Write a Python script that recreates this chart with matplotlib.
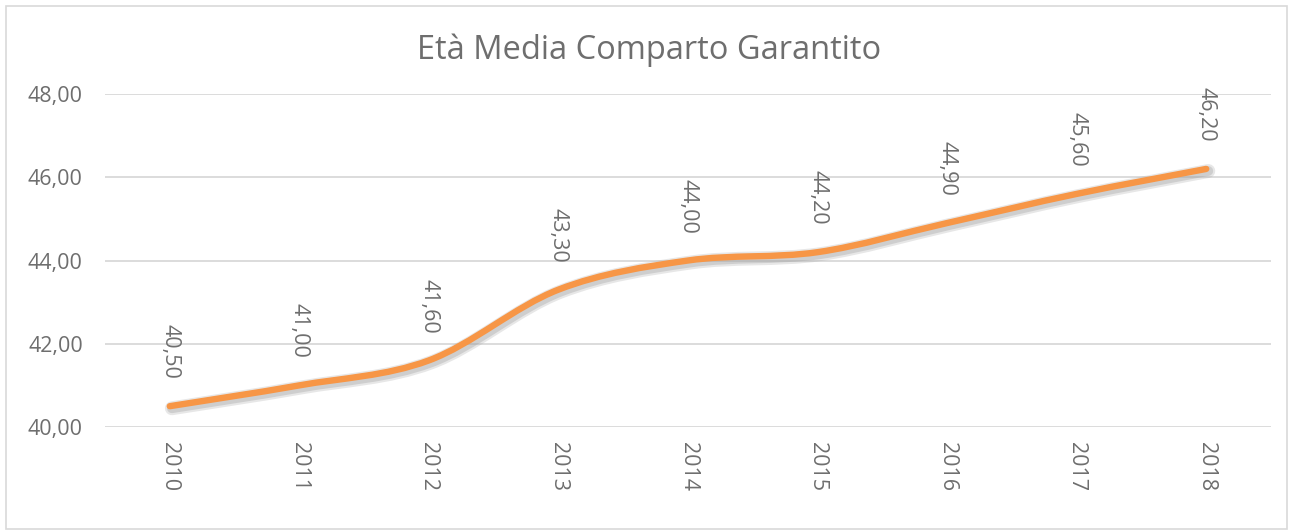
import matplotlib
matplotlib.use('Agg')
import matplotlib.pyplot as plt
import matplotlib.patheffects as pe
from matplotlib.path import Path
from matplotlib.patches import PathPatch, Rectangle

years = ['2010', '2011', '2012', '2013', '2014', '2015', '2016', '2017', '2018']
eta_media = [40.50, 41.00, 41.60, 43.30, 44.00, 44.20, 44.90, 45.60, 46.20]
y_ticks = [40, 42, 44, 46, 48]

plt.rcParams['font.family'] = ['Open Sans', 'DejaVu Sans']
text_col = '#6e6e6e'
line_col = '#f79646'

fig = plt.figure(figsize=(12.9, 5.31), dpi=100)
ax = fig.add_axes([105 / 1290, 1 - 427 / 531, 1166 / 1290, 333 / 531])

# outer border of the chart area
fig.patches.append(Rectangle((6 / 1290, 2 / 531), 1281 / 1290, 523 / 531,
                             transform=fig.transFigure, fill=False,
                             edgecolor='#d9d9d9', linewidth=1.2))

x = list(range(len(years)))

# smoothed line like excel (catmull-rom -> cubic bezier)
verts = [(x[0], eta_media[0])]
codes = [Path.MOVETO]
n = len(x)
for i in range(n - 1):
    p0 = (x[max(i - 1, 0)], eta_media[max(i - 1, 0)])
    p1 = (x[i], eta_media[i])
    p2 = (x[i + 1], eta_media[i + 1])
    p3 = (x[min(i + 2, n - 1)], eta_media[min(i + 2, n - 1)])
    c1 = (p1[0] + (p2[0] - p0[0]) / 6, p1[1] + (p2[1] - p0[1]) / 6)
    c2 = (p2[0] - (p3[0] - p1[0]) / 6, p2[1] - (p3[1] - p1[1]) / 6)
    verts += [c1, c2, p2]
    codes += [Path.CURVE4] * 3

curve = PathPatch(Path(verts, codes), fill=False, edgecolor=line_col,
                  linewidth=4.6, capstyle='round', joinstyle='round', zorder=3)
curve.set_path_effects([
    pe.SimpleLineShadow(offset=(1.5, -1.5), shadow_color='#b0b0b0', alpha=0.3, linewidth=10),
    pe.SimpleLineShadow(offset=(1.5, -1.5), shadow_color='#a0a0a0', alpha=0.35, linewidth=7),
    pe.Normal()])
ax.add_patch(curve)

for xi, v in zip(x, eta_media):
    ax.annotate(f'{v:.2f}'.replace('.', ','), (xi, v), xytext=(0, 19.5),
                textcoords='offset points', rotation=-90, ha='center', va='bottom',
                fontsize=15.5, color=text_col)

ax.set_xlim(-0.5, n - 0.5)
ax.set_ylim(40, 48)
ax.set_yticks(y_ticks)
ax.set_yticklabels([f'{t:.2f}'.replace('.', ',') for t in y_ticks])
ax.set_xticks(x)
ax.set_xticklabels(years, rotation=-90)
ax.tick_params(axis='both', length=0, labelsize=15.5, labelcolor=text_col)
ax.tick_params(axis='y', pad=16)
ax.tick_params(axis='x', pad=11)
ax.grid(axis='y', color='#d9d9d9', linewidth=1.3)
ax.set_axisbelow(True)
for s in ax.spines.values():
    s.set_visible(False)

fig.text(649 / 1290, 1 - 50 / 531, 'Età Media Comparto Garantito', ha='center', va='center',
         fontsize=23.5, color=text_col)

fig.savefig('out.png', dpi=100)
